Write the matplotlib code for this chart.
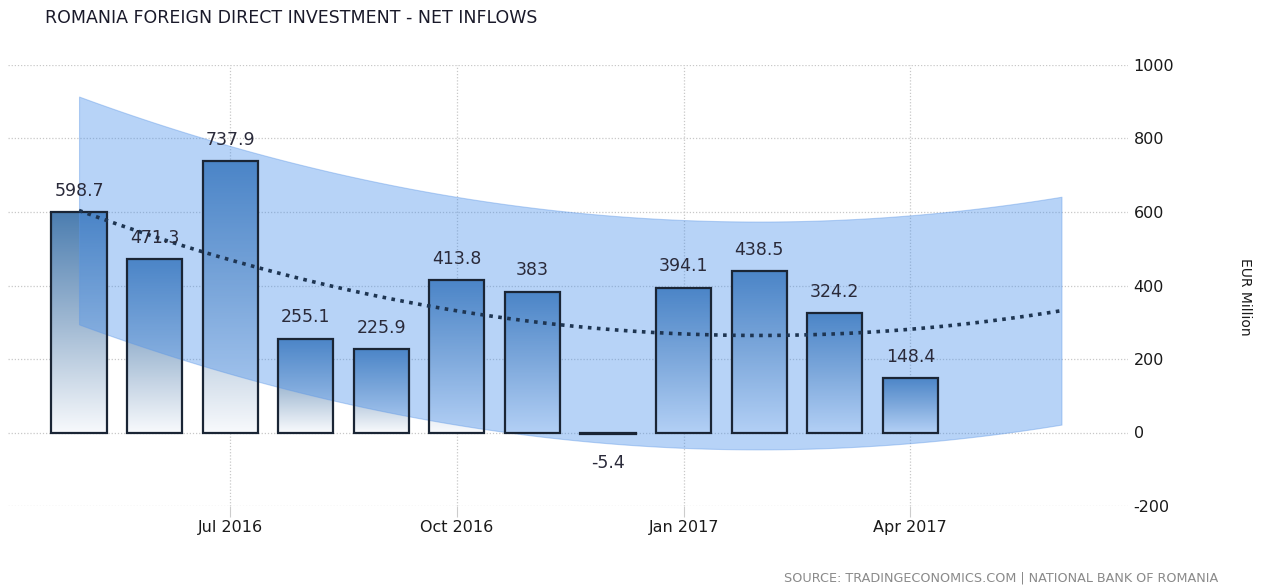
import numpy as np
import matplotlib
matplotlib.use("Agg")
import matplotlib.pyplot as plt
from matplotlib.colors import LinearSegmentedColormap

plt.rcParams["axes.unicode_minus"] = False

# data (EUR million, monthly)
months = ["May 2016", "Jun 2016", "Jul 2016", "Aug 2016", "Sep 2016", "Oct 2016",
          "Nov 2016", "Dec 2016", "Jan 2017", "Feb 2017", "Mar 2017", "Apr 2017"]
values = [598.7, 471.3, 737.9, 255.1, 225.9, 413.8, 383.0, -5.4, 394.1, 438.5, 324.2, 148.4]
tick_labels = ["Jul 2016", "Oct 2016", "Jan 2017", "Apr 2017"]
tick_months = ["Jul 2016", "Oct 2016", "Jan 2017", "Apr 2017"]
forecast_months = 2      # trend runs two months past the last bar
band_half = 310          # half width of the shaded band

x = np.arange(len(values))
xt = [months.index(m) for m in tick_months]

fig = plt.figure(figsize=(12.71, 5.87), dpi=100)
ax = fig.add_axes([8 / 1271, 1 - 506 / 587, 1120 / 1271, 441 / 587])

# gradient bars (fill under the band, outline on top of it)
cmap = LinearSegmentedColormap.from_list("bar", ["#f7f9fc", "#9fb8d2", "#4b7db0"])
grad = np.linspace(1, 0, 256).reshape(-1, 1)
w = 0.73
for xi, v in zip(x, values):
    if v > 0:
        ax.imshow(grad, extent=[xi - w / 2, xi + w / 2, 0, v], aspect="auto",
                  cmap=cmap, zorder=2, interpolation="bicubic")
    ax.bar(xi, v, width=w, facecolor="none" if v > 0 else "#1f3550",
           edgecolor="#1a2535", linewidth=1.6, zorder=3.5)

# quadratic trend + band
coef = np.polyfit(x, values, 2)
xs = np.linspace(0, len(values) - 1 + forecast_months, 200)
trend = np.polyval(coef, xs)
ax.fill_between(xs, trend - band_half, trend + band_half, facecolor=(75 / 255, 145 / 255, 235 / 255),
                alpha=0.4, linewidth=0.8, edgecolor="#5d97e6", zorder=3)
ax.plot(xs, trend, linestyle=(0, (1, 1.5)), color="#1e3552", linewidth=2.6,
        zorder=4)

# value labels
for xi, v in zip(x, values):
    lab = "%g" % v
    yl = v + 58 if v >= 0 else v - 78
    ax.text(xi, yl, lab, ha="center", va="center", fontsize=12.5,
            color="#2a2a3a", zorder=5)

ax.set_xlim(-0.94, 13.88)
ax.set_ylim(-200, 1000)
ax.set_yticks(range(-200, 1001, 200))
ax.yaxis.tick_right()
ax.tick_params(axis="y", length=0, pad=4, labelsize=11.5, labelcolor="#1a1a1a")
ax.set_xticks(xt)
ax.set_xticklabels(tick_labels)
ax.tick_params(axis="x", length=8, color="#cccccc", pad=2, labelsize=11.5,
               labelcolor="#1a1a1a")
ax.grid(True, linestyle=(0, (1, 1.5)), color="#c8c8c8", linewidth=0.9, zorder=0)
ax.set_axisbelow(True)
for s in ax.spines.values():
    s.set_visible(False)

fig.text(1245 / 1271, 1 - 297 / 587, "EUR Million", rotation=-90, fontsize=10,
         color="#1a1a1a", ha="center", va="center")
fig.text(45 / 1271, 1 - 18 / 587, "ROMANIA FOREIGN DIRECT INVESTMENT - NET INFLOWS",
         fontsize=12.5, color="#1a1a2a", va="center", ha="left")
fig.text(1218 / 1271, 1 - 578 / 587,
         "SOURCE: TRADINGECONOMICS.COM | NATIONAL BANK OF ROMANIA",
         fontsize=9.2, color="#8a8a8a", va="center", ha="right")

fig.savefig("out.png", dpi=100)
plt.close()
